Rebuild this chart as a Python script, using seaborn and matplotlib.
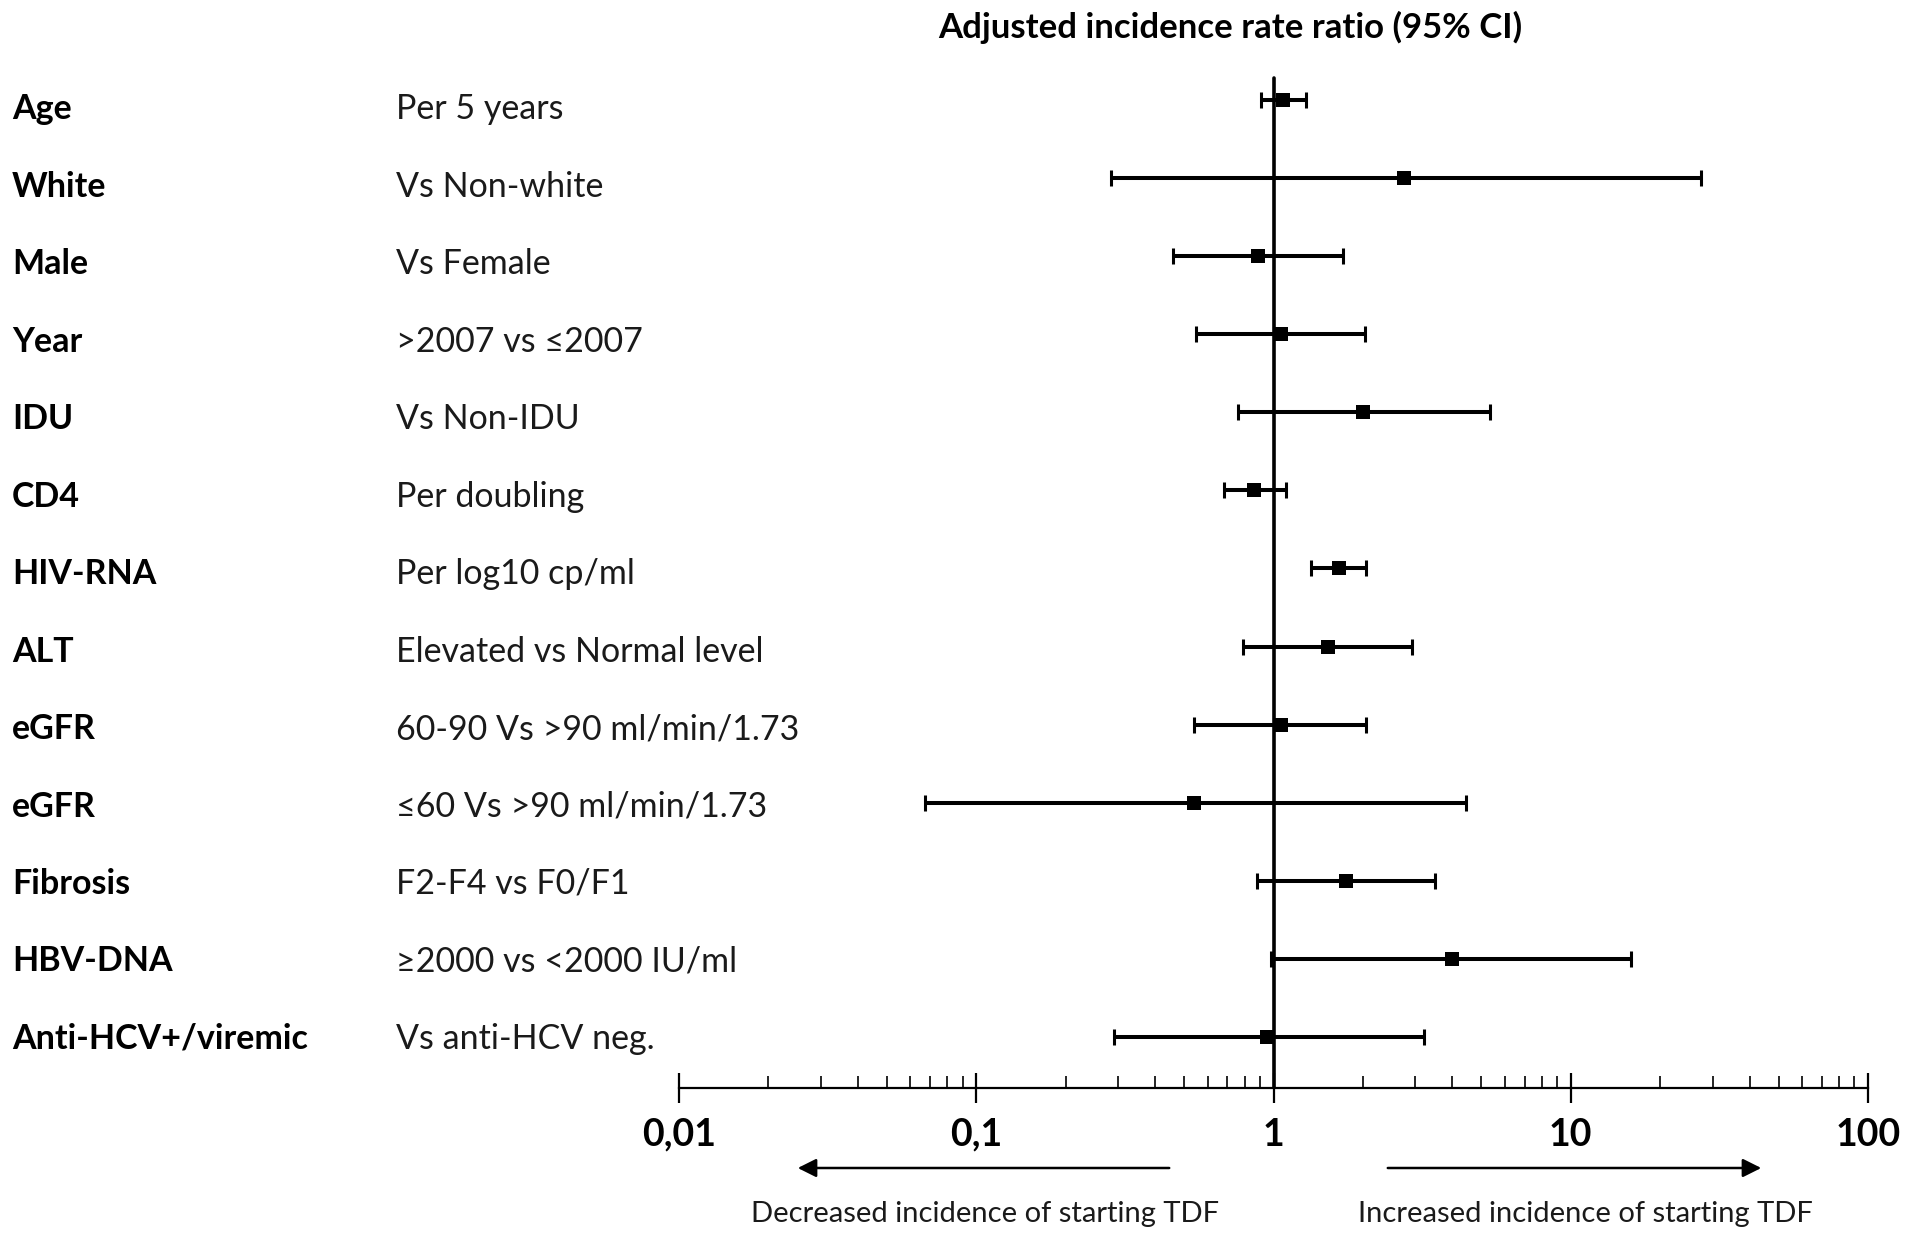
import numpy as np
import pandas as pd
import seaborn as sns
import matplotlib
import matplotlib.pyplot as plt
from matplotlib.ticker import FixedLocator, FixedFormatter, NullFormatter
from matplotlib.transforms import blended_transform_factory

matplotlib.use('Agg')

variables = ['Age', 'White', 'Male', 'Year', 'IDU', 'CD4', 'HIV-RNA', 'ALT',
             'eGFR', 'eGFR', 'Fibrosis', 'HBV-DNA', 'Anti-HCV+/viremic']
comparisons = ['Per 5 years', 'Vs Non-white', 'Vs Female', '>2007 vs \u22642007',
               'Vs Non-IDU', 'Per doubling', 'Per log10 cp/ml', 'Elevated vs Normal level',
               '60-90 Vs >90 ml/min/1.73', '\u226460 Vs >90 ml/min/1.73', 'F2-F4 vs F0/F1',
               '\u22652000 vs <2000 IU/ml', 'Vs anti-HCV neg.']
irr = [1.08, 2.75, 0.89, 1.06, 2.0, 0.86, 1.66, 1.53, 1.06, 0.54, 1.75, 4.0, 0.95]
ci_low = [0.91, 0.285, 0.46, 0.55, 0.76, 0.68, 1.34, 0.79, 0.54, 0.067, 0.88, 0.98, 0.29]
ci_high = [1.29, 27.5, 1.71, 2.03, 5.35, 1.10, 2.05, 2.93, 2.05, 4.45, 3.5, 16.0, 3.2]
tick_values = [0.01, 0.1, 1, 10, 100]
tick_labels = ['0,01', '0,1', '1', '10', '100']

df = pd.DataFrame({'variable': variables, 'comparison': comparisons,
                   'irr': irr, 'low': ci_low, 'high': ci_high})
df['row'] = np.arange(len(df))

sns.set_theme(style='white')
plt.rcParams['font.family'] = ['Lato', 'DejaVu Sans']

fig = plt.figure(figsize=(19.11, 12.39), dpi=100)
ax = fig.add_axes([679 / 1911, 1 - 1088 / 1239, (1868 - 679) / 1911, (1088 - 60) / 1239])

ax.set_xscale('log')
ax.axvline(1, ymin=0, ymax=0.9825, color='black', lw=2.6, zorder=1)

ax.errorbar(df['irr'], df['row'],
            xerr=[df['irr'] - df['low'], df['high'] - df['irr']],
            fmt='none', ecolor='black', elinewidth=2.9, capsize=5.5, capthick=2.2, zorder=2)
sns.scatterplot(data=df, x='irr', y='row', marker='s', s=115, color='black',
                linewidth=0, ax=ax, zorder=3)

ax.set_xlim(0.01, 100)
ax.set_ylim(12.653, -0.512)
ax.set_yticks([])
ax.set_xlabel('')
ax.set_ylabel('')
for side in ['left', 'top', 'right']:
    ax.spines[side].set_visible(False)
ax.spines['bottom'].set_color('black')
ax.spines['bottom'].set_linewidth(1.6)

ax.xaxis.set_major_locator(FixedLocator(tick_values))
ax.xaxis.set_major_formatter(FixedFormatter(tick_labels))
minor = [m * 10.0 ** e for e in range(-2, 2) for m in range(2, 10)]
ax.xaxis.set_minor_locator(FixedLocator(minor))
ax.xaxis.set_minor_formatter(NullFormatter())
ax.tick_params(axis='x', which='major', direction='inout', length=21, width=1.6,
               color='black', pad=11, labelsize=27, bottom=True)
ax.tick_params(axis='x', which='minor', direction='in', length=9, width=1.2,
               color='black', bottom=True)
for lab in ax.get_xticklabels():
    lab.set_fontweight('bold')
    lab.set_color('black')

# label rows sit a little lower than the markers near the top
trans = blended_transform_factory(fig.transFigure, ax.transData)
for _, r in df.iterrows():
    y = r['row'] + 0.12 - 0.008 * r['row']
    ax.text(12 / 1911, y, r['variable'], transform=trans, fontsize=24.5,
            fontweight='bold', va='center', ha='left', color='black')
    ax.text(396 / 1911, y, r['comparison'], transform=trans, fontsize=24.5,
            va='center', ha='left', color='#1a1a1a')

fig.text(1230 / 1911, 1 - 27 / 1239, 'Adjusted incidence rate ratio (95% CI)',
         fontsize=25, fontweight='bold', ha='center', va='center', color='black')

arrow_y = 1 - 1168 / 1239
ax.annotate('', xy=(795 / 1911, arrow_y), xytext=(1172 / 1911, arrow_y),
            xycoords='figure fraction', textcoords='figure fraction',
            arrowprops=dict(arrowstyle='-|>', lw=1.8, color='black', mutation_scale=28))
ax.annotate('', xy=(1764 / 1911, arrow_y), xytext=(1385 / 1911, arrow_y),
            xycoords='figure fraction', textcoords='figure fraction',
            arrowprops=dict(arrowstyle='-|>', lw=1.8, color='black', mutation_scale=28))
fig.text(985 / 1911, 1 - 1214 / 1239, 'Decreased incidence of starting TDF',
         fontsize=21, ha='center', va='center', color='#1a1a1a')
fig.text(1585 / 1911, 1 - 1214 / 1239, 'Increased incidence of starting TDF',
         fontsize=21, ha='center', va='center', color='#1a1a1a')

fig.savefig('out.png', dpi=100, facecolor='white')
